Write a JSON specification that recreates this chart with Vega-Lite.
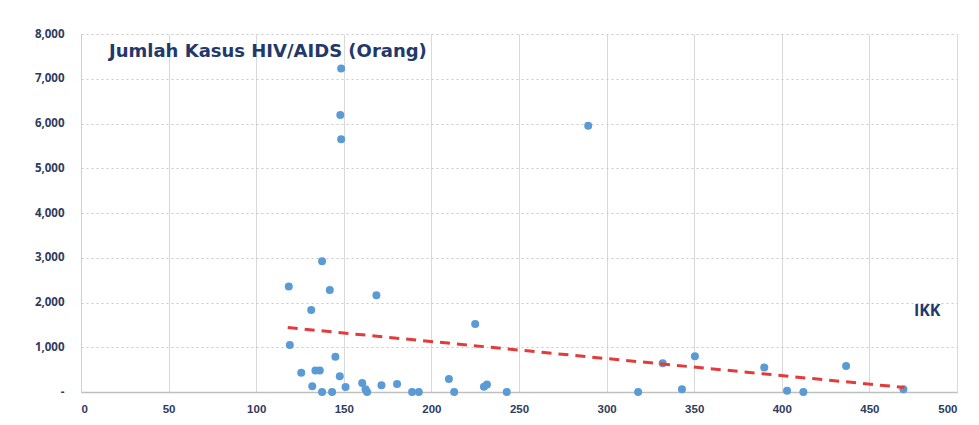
{
  "$schema": "https://vega.github.io/schema/vega-lite/v6.json",
  "width": 876,
  "height": 358,
  "autosize": {"type": "none"},
  "padding": {"left": 81, "top": 34, "right": 22, "bottom": 33},
  "background": "white",
  "config": {"view": {"stroke": null}, "font": "Open Sans"},
  "datasets": {
    "points": [
      {"IKK": 148.5, "Kasus": 7230}, {"IKK": 148, "Kasus": 6190}, {"IKK": 148.5, "Kasus": 5650},
      {"IKK": 289.5, "Kasus": 5950}, {"IKK": 137.6, "Kasus": 2920}, {"IKK": 118.6, "Kasus": 2360},
      {"IKK": 142, "Kasus": 2280}, {"IKK": 168.6, "Kasus": 2160}, {"IKK": 131.4, "Kasus": 1830},
      {"IKK": 225, "Kasus": 1520}, {"IKK": 119.2, "Kasus": 1050}, {"IKK": 145.2, "Kasus": 790},
      {"IKK": 133.8, "Kasus": 480}, {"IKK": 136.3, "Kasus": 480}, {"IKK": 125.7, "Kasus": 430},
      {"IKK": 147.7, "Kasus": 350}, {"IKK": 132, "Kasus": 130}, {"IKK": 137.6, "Kasus": 0},
      {"IKK": 143.3, "Kasus": 0}, {"IKK": 151, "Kasus": 110}, {"IKK": 160.5, "Kasus": 200},
      {"IKK": 162.4, "Kasus": 60}, {"IKK": 163.3, "Kasus": 0}, {"IKK": 171.5, "Kasus": 150},
      {"IKK": 180.4, "Kasus": 180}, {"IKK": 189, "Kasus": 0}, {"IKK": 192.8, "Kasus": 0},
      {"IKK": 210, "Kasus": 290}, {"IKK": 213, "Kasus": 0}, {"IKK": 230, "Kasus": 120},
      {"IKK": 231.7, "Kasus": 170}, {"IKK": 243, "Kasus": 0}, {"IKK": 318, "Kasus": 0},
      {"IKK": 332, "Kasus": 640}, {"IKK": 343, "Kasus": 60}, {"IKK": 350.4, "Kasus": 800},
      {"IKK": 390, "Kasus": 550}, {"IKK": 403, "Kasus": 30}, {"IKK": 412.3, "Kasus": 0},
      {"IKK": 436.7, "Kasus": 580}, {"IKK": 469.4, "Kasus": 60}
    ],
    "trend": [
      {"IKK": 118, "Kasus": 1440},
      {"IKK": 470, "Kasus": 100}
    ]
  },
  "layer": [
    {
      "data": {"name": "points"},
      "mark": {"type": "circle", "size": 64, "color": "#5b9bd5", "opacity": 1},
      "encoding": {
        "x": {
          "field": "IKK", "type": "quantitative",
          "scale": {"domain": [0, 500], "nice": false, "zero": true},
          "axis": {
            "title": null, "values": [0, 50, 100, 150, 200, 250, 300, 350, 400, 450, 500],
            "grid": true, "gridColor": "#d9d9d9", "gridWidth": 1,
            "domain": true, "domainColor": "#bfbfbf", "domainWidth": 1.5,
            "ticks": false, "labelPadding": 11, "labelFontSize": 11.5, "labelFontWeight": "bold",
            "labelColor": "#2f3b5e", "labelFont": "Liberation Sans"
          }
        },
        "y": {
          "field": "Kasus", "type": "quantitative",
          "scale": {"domain": [0, 8000], "nice": false},
          "axis": {
            "title": null, "values": [0, 1000, 2000, 3000, 4000, 5000, 6000, 7000, 8000],
            "format": ",.0f", "labelExpr": "datum.value === 0 ? '-' : datum.label",
            "grid": true, "gridColor": "#c8c8c8", "gridDash": [2, 3], "gridWidth": 1,
            "domain": true, "domainColor": "#d0d0d0",
            "ticks": false, "labelPadding": 17, "labelFontSize": 11.5, "labelFontWeight": "bold",
            "labelColor": "#2f3b5e"
          }
        }
      }
    },
    {
      "data": {"name": "trend"},
      "mark": {"type": "line", "color": "#e33b3b", "strokeDash": [10, 7], "strokeWidth": 3},
      "encoding": {
        "x": {"field": "IKK", "type": "quantitative"},
        "y": {"field": "Kasus", "type": "quantitative"}
      }
    },
    {
      "data": {"values": [{"label": "Jumlah Kasus HIV/AIDS (Orang)"}]},
      "mark": {"type": "text", "align": "left", "baseline": "middle", "fontSize": 18, "fontWeight": "bold", "color": "#23386a", "font": "DejaVu Sans"},
      "encoding": {
        "x": {"datum": 16, "type": "quantitative"},
        "y": {"datum": 7600, "type": "quantitative"},
        "text": {"field": "label"}
      }
    },
    {
      "data": {"values": [{"label": "IKK"}]},
      "mark": {"type": "text", "align": "center", "baseline": "middle", "fontSize": 16, "fontWeight": "bold", "color": "#23386a", "font": "Open Sans"},
      "encoding": {
        "x": {"datum": 483, "type": "quantitative"},
        "y": {"datum": 1810, "type": "quantitative"},
        "text": {"field": "label"}
      }
    }
  ]
}
